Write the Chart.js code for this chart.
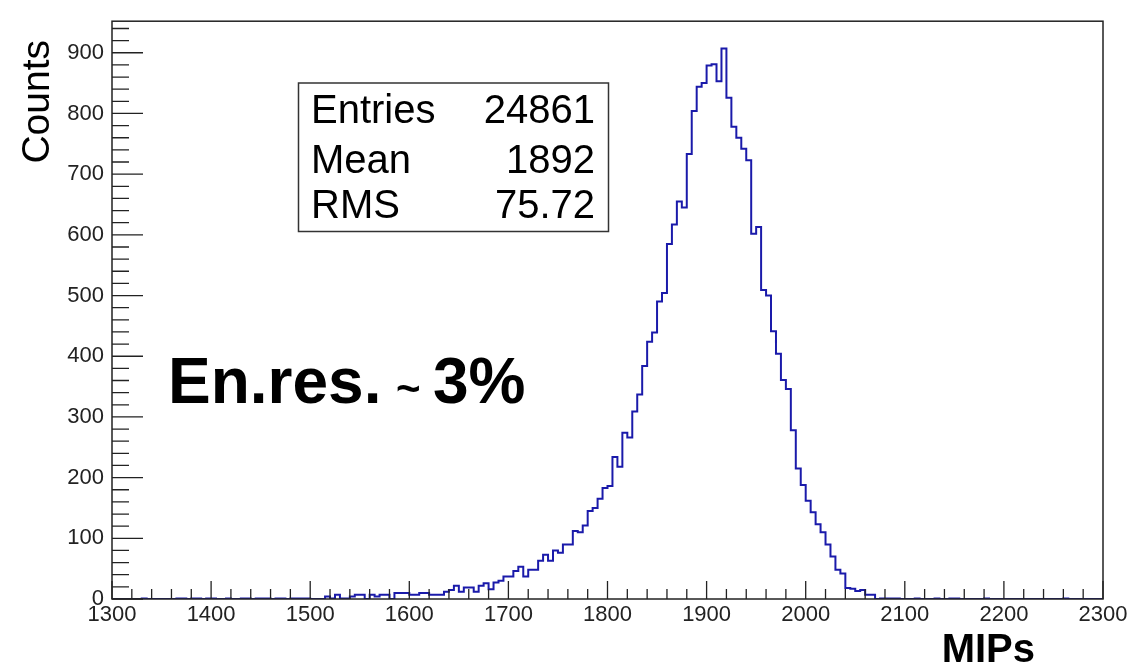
<!DOCTYPE html>
<html>
<head>
<meta charset="utf-8">
<script src="https://cdn.jsdelivr.net/npm/chart.js@4"></script>
<style>
  html, body { margin: 0; padding: 0; background: #fff; }
  #wrap { width: 1137px; height: 666px; position: relative; }
</style>
</head>
<body>
<div id="wrap"><canvas id="histChart"></canvas></div>
<script>
// binning of the MIPs histogram
const xMin = 1300;
const xMax = 2300;
const binWidth = 5;

// counts per 5-MIP bin
const countsTailLow = [ // 1300 - 1495
  0, 0, 0, 0, 0, 0, 1, 0, 0, 0, 0, 0, 0, 1, 1, 0, 1, 1, 0, 1,
  1, 0, 0, 1, 0, 0, 1, 1, 0, 1, 1, 1, 0, 1, 1, 0, 1, 1, 1, 1
];
const countsRise = [ // 1500 - 1795
  0, 0, 0, 4, 1, 7, 1, 1, 4, 7, 7, 0, 7, 4, 7, 7, 0, 10, 10, 10,
  7, 7, 10, 10, 7, 7, 7, 12, 15, 22, 12, 19, 19, 12, 22, 26, 16, 27, 30, 37,
  37, 46, 53, 37, 48, 48, 63, 73, 63, 80, 76, 90, 90, 112, 110, 121, 145, 150, 165, 183
];
const countsPeak = [ // 1800 - 1995
  186, 234, 218, 274, 266, 309, 337, 384, 424, 439, 490, 504, 585, 617, 655, 645, 733, 804, 844, 850,
  879, 881, 853, 907, 826, 778, 760, 742, 723, 602, 613, 509, 500, 441, 404, 361, 346, 278, 215, 188
];
const countsTailHigh = [ // 2000 - 2295
  162, 143, 123, 110, 90, 70, 48, 42, 18, 17, 13, 15, 7, 7, 0, 1, 1, 1, 1, 0,
  0, 0, 1, 0, 0, 0, 1, 0, 0, 1, 1, 0, 0, 0, 0, 0, 1, 0, 0, 0,
  0, 0, 0, 0, 0, 0, 0, 0, 0, 0, 0, 0, 1, 0, 0, 0, 0, 0, 0, 0
];

const xTickValues = [1300, 1400, 1500, 1600, 1700, 1800, 1900, 2000, 2100, 2200, 2300];
const yTickValues = [0, 100, 200, 300, 400, 500, 600, 700, 800, 900];
const yMax = 952;

const statsLabels = ['Entries', 'Mean', 'RMS'];
const statsValues = ['24861', '1892', '75.72'];

const FONT = '"Liberation Sans", Arial, Helvetica, sans-serif';
Chart.defaults.font.family = FONT;

const counts = [...countsTailLow, ...countsRise, ...countsPeak, ...countsTailHigh];
const points = counts.map((c, i) => ({ x: xMin + i * binWidth, y: c }));
points.push({ x: xMax, y: 0 });

// ROOT style frame with inward ticks (major every 100, minor every 20)
const rootFrame = {
    id: 'rootFrame',
    afterDatasetsDraw(chart) {
        const { ctx, chartArea: a, scales: { x, y } } = chart;
        ctx.save();
        ctx.strokeStyle = '#222';
        ctx.lineWidth = 1.5;
        ctx.strokeRect(a.left, a.top, a.right - a.left, a.bottom - a.top);

        ctx.lineWidth = 1.3;
        ctx.beginPath();
        for (let v = xMin; v <= xMax; v += 20) {
            const px = x.getPixelForValue(v);
            const len = v % 100 === 0 ? 18 : 10;
            ctx.moveTo(px, a.bottom);
            ctx.lineTo(px, a.bottom - len);
        }
        for (let v = 0; v <= y.max; v += 20) {
            const py = y.getPixelForValue(v);
            const len = v % 100 === 0 ? 31 : 17;
            ctx.moveTo(a.left, py);
            ctx.lineTo(a.left + len, py);
        }
        ctx.stroke();
        ctx.restore();
    }
};

// stats box, axis titles and the resolution note
const annotations = {
    id: 'annotations',
    afterDraw(chart) {
        const { ctx } = chart;
        ctx.save();

        // stats box
        ctx.fillStyle = '#fff';
        ctx.fillRect(298.5, 83, 310, 148.5);
        ctx.strokeStyle = '#333';
        ctx.lineWidth = 1.5;
        ctx.strokeRect(298.5, 83, 310, 148.5);
        ctx.fillStyle = '#000';
        ctx.font = '40px ' + FONT;
        ctx.textBaseline = 'alphabetic';
        const rowBase = [123, 173, 218];
        statsLabels.forEach((lab, i) => {
            ctx.textAlign = 'left';
            ctx.fillText(lab, 311, rowBase[i]);
            ctx.textAlign = 'right';
            ctx.fillText(statsValues[i], 595, rowBase[i]);
        });

        // En.res. ~ 3%
        ctx.textAlign = 'left';
        ctx.font = 'bold 64px ' + FONT;
        ctx.fillText('En.res.', 168, 403);
        ctx.font = 'bold 42px ' + FONT;
        ctx.fillText('~', 396, 403);
        ctx.font = 'bold 64px ' + FONT;
        ctx.fillText('3%', 433, 403);

        // x title
        ctx.textAlign = 'right';
        ctx.font = 'bold 40px ' + FONT;
        ctx.fillText('MIPs', 1035, 662);

        // y title
        ctx.translate(49, 40);
        ctx.rotate(-Math.PI / 2);
        ctx.font = '39px ' + FONT;
        ctx.textAlign = 'right';
        ctx.fillText('Counts', 0, 0);

        ctx.restore();
    }
};

new Chart(document.getElementById('histChart'), {
    type: 'line',
    data: {
        datasets: [{
            data: points,
            stepped: true,
            borderColor: '#1a1aaa',
            borderWidth: 2,
            pointRadius: 0,
            fill: false
        }]
    },
    options: {
        responsive: true,
        maintainAspectRatio: false,
        animation: false,
        layout: { padding: { top: 10, right: 34, left: 0, bottom: 0 } },
        plugins: {
            legend: { display: false },
            tooltip: { enabled: false }
        },
        scales: {
            x: {
                type: 'linear',
                min: xMin,
                max: xMax,
                afterBuildTicks: (scale) => { scale.ticks = xTickValues.map(v => ({ value: v })); },
                afterFit: (scale) => { scale.height = 67; },
                grid: { display: false, drawTicks: false },
                border: { display: false },
                ticks: {
                    autoSkip: false,
                    maxRotation: 0,
                    padding: 3,
                    color: '#222',
                    font: { size: 22 },
                    callback: (value) => String(value)
                }
            },
            y: {
                type: 'linear',
                min: 0,
                max: yMax,
                afterBuildTicks: (scale) => { scale.ticks = yTickValues.map(v => ({ value: v })); },
                afterFit: (scale) => { scale.width = 112; },
                grid: { display: false, drawTicks: false },
                border: { display: false },
                ticks: {
                    padding: 8,
                    color: '#222',
                    font: { size: 22 },
                    callback: (value) => String(value)
                }
            }
        }
    },
    plugins: [rootFrame, annotations]
});
</script>
</body>
</html>
